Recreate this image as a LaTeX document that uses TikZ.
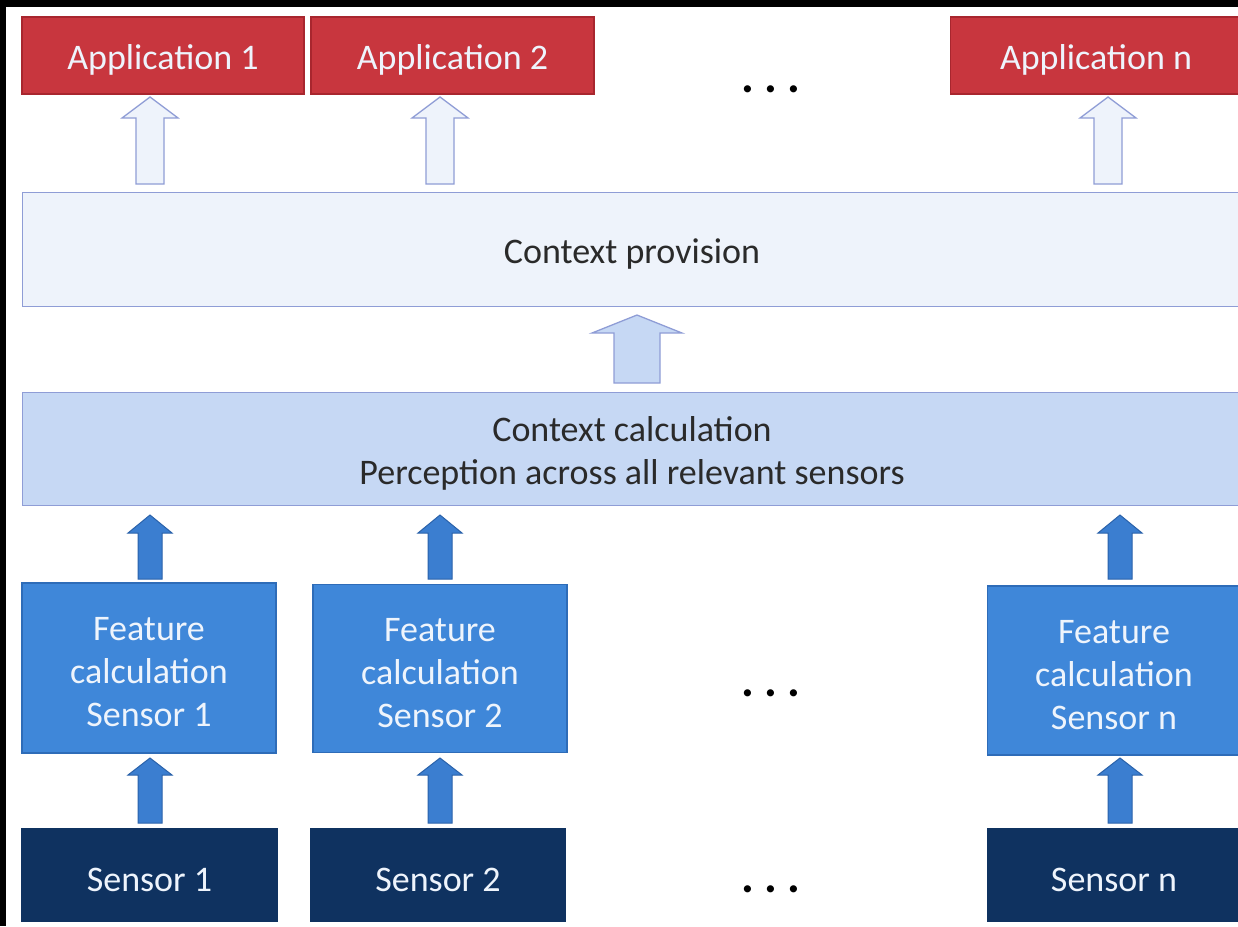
\documentclass[tikz,border=0pt]{standalone}
\usepackage{fontspec}
\setmainfont{Carlito}
\definecolor{appred}{HTML}{C8363E}
\definecolor{appredb}{HTML}{A8262E}
\definecolor{provfill}{HTML}{EEF3FB}
\definecolor{boxline}{HTML}{8F9DD6}
\definecolor{calcfill}{HTML}{C6D8F4}
\definecolor{featfill}{HTML}{3F87D9}
\definecolor{featline}{HTML}{2E6CB8}
\definecolor{sensfill}{HTML}{0F3260}
\definecolor{arrfill}{HTML}{3B7ED0}
\definecolor{arrline}{HTML}{2A62AA}
\definecolor{txtdark}{HTML}{2A2A2A}
\definecolor{txtlight}{HTML}{EEF4FC}
\newcommand\blockarr[7]{% style, cx, tip, base, bottom, headhalf, shafthalf
  \draw[#1] (#2-#7,#5) -- (#2-#7,#4) -- (#2-#6,#4) -- (#2,#3) -- (#2+#6,#4) -- (#2+#7,#4) -- (#2+#7,#5) -- cycle;}
\begin{document}
\begin{tikzpicture}[x=1pt,y=-1pt,
  base/.style={rectangle, inner sep=0pt, line width=1.2pt},
  appbox/.style={base, fill=appred, draw=appredb},
  provbox/.style={base, fill=provfill, draw=boxline},
  calcbox/.style={base, fill=calcfill, draw=boxline},
  featbox/.style={base, fill=featfill, draw=featline},
  sensbox/.style={base, fill=sensfill, draw=sensfill},
  lbl/.style={inner sep=0pt, align=center, yshift=-4.5pt, font=\fontsize{36}{43}\selectfont},
  lighttxt/.style={lbl, text=txtlight},
  darktxt/.style={lbl, text=txtdark},
  hollowarr/.style={fill=provfill, draw=boxline, line width=1.3pt, line join=miter},
  midarr/.style={fill=calcfill, draw=boxline, line width=1.3pt, line join=miter},
  bluearr/.style={fill=arrfill, draw=arrline, line width=1pt, line join=miter},
  dots/.style={inner sep=0pt, font=\bfseries\fontsize{48}{48}\selectfont, text=black}
]
\useasboundingbox (0,0) rectangle (1238,926);
\fill[black] (0,0) rectangle (1238,926);
\fill[white] (6,7) rectangle (1238,926);

% Applications
\node[appbox, minimum width=282pt, minimum height=77pt] (app1) at (163,55.5) {};
\node[appbox, minimum width=283pt, minimum height=77pt] (app2) at (452.5,55.5) {};
\node[appbox, minimum width=290pt, minimum height=77pt, anchor=west] (appn) at (950,55.5) {};
\node[lighttxt] (app1t) at (app1) {Application 1};
\node[lighttxt] (app2t) at (app2) {Application 2};
\node[lighttxt] (appnt) at (1096,55.5) {Application n};
\node[dots] (dtop) at (771,89) {.\hspace{10pt}.\hspace{10pt}.};

% Context provision
\node[provbox, minimum width=1218pt, minimum height=114pt, anchor=north west] (prov) at (22,192) {};
\node[darktxt] (provt) at (632,250) {Context provision};

% Context calculation
\node[calcbox, minimum width=1218pt, minimum height=113pt, anchor=north west] (calc) at (22,392) {};
\node[darktxt] (calct) at (632,449) {Context calculation\\Perception across all relevant sensors};

% Features
\node[featbox, minimum width=254pt, minimum height=170pt] (f1) at (149,668) {};
\node[featbox, minimum width=254pt, minimum height=168pt] (f2) at (440,668.5) {};
\node[featbox, minimum width=253pt, minimum height=169pt, anchor=west] (fn) at (987,670.5) {};
\node[lighttxt] (f1t) at (f1) {Feature\\calculation\\Sensor 1};
\node[lighttxt] (f2t) at (f2) {Feature\\calculation\\Sensor 2};
\node[lighttxt] (fnt) at (1114,670.5) {Feature\\calculation\\Sensor n};
\node[dots] (dmid) at (771,693) {.\hspace{10pt}.\hspace{10pt}.};

% Sensors
\node[sensbox, minimum width=255pt, minimum height=92pt] (s1) at (149.5,875) {};
\node[sensbox, minimum width=254pt, minimum height=92pt] (s2) at (438,875) {};
\node[sensbox, minimum width=253pt, minimum height=92pt, anchor=west] (sn) at (987,875) {};
\node[lighttxt] (s1t) at (s1) {Sensor 1};
\node[lighttxt] (s2t) at (s2) {Sensor 2};
\node[lighttxt] (snt) at (1114,875) {Sensor n};
\node[dots] (dbot) at (771,889) {.\hspace{10pt}.\hspace{10pt}.};

% Hollow arrows (provision -> applications)
\blockarr{hollowarr}{150}{97}{118}{184}{28}{14}
\blockarr{hollowarr}{440}{97}{118}{184}{28}{14}
\blockarr{hollowarr}{1108}{97}{118}{184}{28}{14}

% Middle arrow (calculation -> provision)
\blockarr{midarr}{637}{315}{333}{383}{45}{23}

% Blue arrows (features -> calculation)
\blockarr{bluearr}{150}{515}{533}{579}{22}{12}
\blockarr{bluearr}{440}{515}{533}{579}{22}{12}
\blockarr{bluearr}{1120}{515}{533}{579}{22}{12}

% Blue arrows (sensors -> features)
\blockarr{bluearr}{150}{758}{775}{823}{22}{12}
\blockarr{bluearr}{440}{758}{775}{823}{22}{12}
\blockarr{bluearr}{1120}{758}{775}{823}{22}{12}
\end{tikzpicture}
\end{document}
